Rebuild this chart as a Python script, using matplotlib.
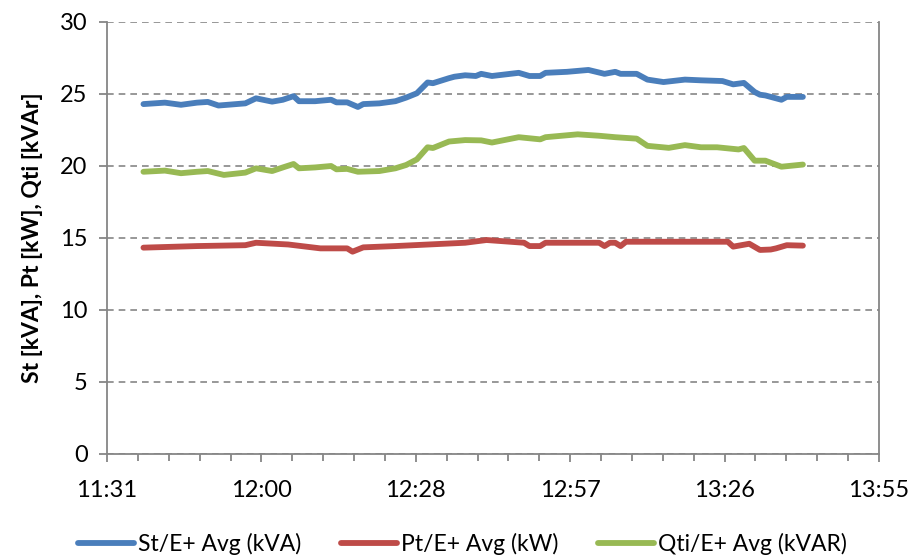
import numpy as np
import matplotlib.pyplot as plt
from matplotlib.ticker import FixedLocator, FuncFormatter, MultipleLocator

# St/E+ Avg (kVA)
st_time = ['11:38', '11:42', '11:45', '11:48', '11:50', '11:52', '11:57', '11:59', '12:02', '12:04',
           '12:06', '12:07', '12:10', '12:13', '12:14', '12:16', '12:18', '12:19', '12:22', '12:25',
           '12:27', '12:29', '12:31', '12:32', '12:35', '12:36', '12:38', '12:40', '12:41', '12:43',
           '12:48', '12:50', '12:52', '12:53', '12:57', '13:01', '13:04', '13:06', '13:07', '13:10',
           '13:12', '13:15', '13:19', '13:22', '13:26', '13:28', '13:30', '13:32', '13:33', '13:34',
           '13:37', '13:38', '13:41']
st_vals = [24.3, 24.4, 24.25, 24.4, 24.45, 24.2, 24.35, 24.7, 24.47, 24.6,
           24.85, 24.5, 24.5, 24.6, 24.42, 24.42, 24.1, 24.3, 24.35, 24.5,
           24.75, 25.05, 25.8, 25.75, 26.1, 26.2, 26.3, 26.25, 26.4, 26.25,
           26.47, 26.25, 26.25, 26.47, 26.54, 26.67, 26.4, 26.54, 26.4, 26.4,
           26.0, 25.83, 26.0, 25.95, 25.9, 25.67, 25.77, 25.14, 24.95, 24.9,
           24.6, 24.8, 24.8]

# Pt/E+ Avg (kW)
pt_time = ['11:38', '11:48', '11:57', '11:59', '12:05', '12:11', '12:16', '12:17', '12:19', '12:25',
           '12:38', '12:42', '12:49', '12:50', '12:52', '12:53', '13:03', '13:04', '13:05', '13:06',
           '13:07', '13:08', '13:27', '13:28', '13:31', '13:33', '13:35', '13:36', '13:38', '13:41']
pt_vals = [14.33, 14.44, 14.5, 14.67, 14.55, 14.28, 14.28, 14.05, 14.35, 14.44,
           14.67, 14.86, 14.67, 14.44, 14.44, 14.67, 14.67, 14.44, 14.67, 14.67,
           14.44, 14.74, 14.74, 14.4, 14.6, 14.17, 14.2, 14.28, 14.5, 14.47]

# Qti/E+ Avg (kVAR)
qt_time = ['11:38', '11:42', '11:45', '11:48', '11:50', '11:53', '11:57', '11:59', '12:02', '12:04',
           '12:06', '12:07', '12:10', '12:13', '12:14', '12:16', '12:18', '12:22', '12:25', '12:27',
           '12:29', '12:31', '12:32', '12:35', '12:38', '12:41', '12:43', '12:48', '12:52', '12:53',
           '12:59', '13:03', '13:06', '13:10', '13:12', '13:16', '13:19', '13:22', '13:25', '13:29',
           '13:30', '13:32', '13:34', '13:37', '13:41']
qt_vals = [19.6, 19.68, 19.5, 19.6, 19.65, 19.38, 19.54, 19.84, 19.65, 19.9,
           20.14, 19.84, 19.9, 20.0, 19.77, 19.8, 19.6, 19.65, 19.84, 20.07,
           20.46, 21.3, 21.25, 21.7, 21.8, 21.78, 21.63, 22.0, 21.85, 22.0,
           22.2, 22.1, 22.0, 21.9, 21.4, 21.26, 21.45, 21.3, 21.3, 21.15,
           21.25, 20.37, 20.37, 19.95, 20.1]

labels = ['St/E+ Avg (kVA)', 'Pt/E+ Avg (kW)', 'Qti/E+ Avg (kVAR)']
colors = ['#4A7EBB', '#BE4B48', '#98B954']


def to_min(s):
    h, m = s.split(':')
    return int(h) * 60 + int(m)


def fmt_time(m, pos):
    sec = int(round(m * 60))
    return '%d:%02d' % (sec // 3600, (sec % 3600) // 60)


plt.rcParams['font.family'] = ['Lato', 'DejaVu Sans']

fig = plt.figure(figsize=(9.1, 5.57), dpi=100)
ax = fig.add_axes([107 / 910, 1 - 454 / 557, 772 / 910, 432 / 557])

for t, v, lab, c in zip([st_time, pt_time, qt_time], [st_vals, pt_vals, qt_vals], labels, colors):
    ax.plot([to_min(s) for s in t], v, color=c, lw=4.2, label=lab,
            solid_capstyle='round', solid_joinstyle='round', zorder=3)

# excel style time axis: 0.48 .. 0.58 day, step 0.02
xmin, xmax = 0.48 * 1440, 0.58 * 1440
ax.set_xlim(xmin, xmax)
ax.set_ylim(0, 30)
ax.xaxis.set_major_locator(FixedLocator(np.linspace(xmin, xmax, 6)))
ax.xaxis.set_minor_locator(FixedLocator(np.linspace(xmin, xmax, 26)))
ax.xaxis.set_major_formatter(FuncFormatter(fmt_time))
ax.yaxis.set_major_locator(MultipleLocator(5))

ax.yaxis.grid(True, color='#868686', linestyle=(0, (4, 3)), lw=1.2)
ax.set_axisbelow(True)

for side in ['left', 'bottom', 'right']:
    ax.spines[side].set_color('#868686')
    ax.spines[side].set_linewidth(1.3)
ax.spines['top'].set_visible(False)

ax.tick_params(axis='both', which='major', color='#868686', width=1.3, length=6,
               labelsize=17, pad=8)
ax.tick_params(axis='x', which='major', pad=13)
ax.tick_params(axis='x', which='minor', color='#868686', width=1.3, length=5)

ax.set_ylabel('St [kVA], Pt [kW], Qti [kVAr]', fontsize=16.5, fontweight='bold', labelpad=12)

fig.legend(loc='lower center', bbox_to_anchor=(0.508, -0.033), ncol=3, frameon=False,
           fontsize=16.5, handlelength=2.45, handletextpad=0.15, columnspacing=1.75)

fig.savefig('out.png', dpi=100)
